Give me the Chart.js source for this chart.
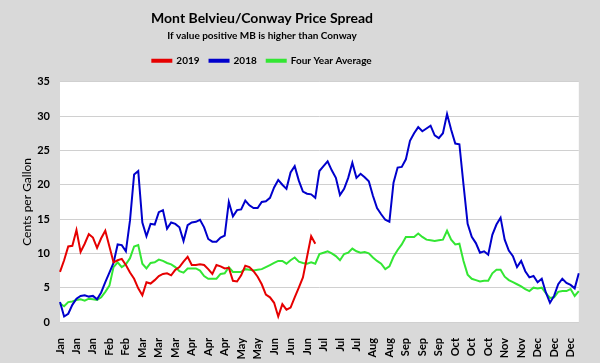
<!DOCTYPE html>
<html>
<head>
<meta charset="utf-8">
<script src="https://cdn.jsdelivr.net/npm/chart.js@4/dist/chart.umd.min.js"></script>
<style>
  html, body { margin: 0; padding: 0; background: #d9d9d9; }
  #wrap { width: 600px; height: 363px; }
</style>
</head>
<body>
<div id="wrap"><canvas id="c" width="600" height="363"></canvas></div>
<script>
// Tick labels shown along the x axis (one every 4 points)
const monthTicks = ['Jan','Jan','Jan','Feb','Feb','Mar','Mar','Mar','Apr','Apr','Apr','May','May','Jun','Jun','Jun',
  'Jul','Jul','Jul','Aug','Aug','Sep','Sep','Sep','Oct','Oct','Oct','Nov','Nov','Dec','Dec','Dec'];

// Series values (cents per gallon)
const series2019 = [
  7.3, 9.0, 11.0, 11.1, 13.4, 10.2, 11.4, 12.8, 12.3, 10.8,
  12.2, 13.3, 11.0, 8.7, 9.0, 9.2, 8.3, 7.2, 6.3, 4.9,
  3.9, 5.8, 5.6, 6.1, 6.7, 7.0, 7.1, 6.8, 7.6, 8.0,
  8.8, 9.5, 8.3, 8.3, 8.4, 8.3, 7.7, 7.0, 8.3, 8.1,
  7.8, 7.9, 6.0, 5.9, 6.8, 8.2, 8.0, 7.4, 6.6, 5.5,
  4.0, 3.6, 2.8, 0.8, 2.6, 1.8, 2.1, 3.6, 5.0, 6.5,
  9.5, 12.5, 11.4
];
const series2018 = [
  2.9, 0.8, 1.2, 2.5, 3.4, 3.8, 3.9, 3.7, 3.8, 3.3,
  4.3, 5.8, 7.2, 8.6, 11.3, 11.2, 10.3, 14.8, 21.5, 22.0,
  14.5, 12.5, 14.3, 14.2, 16.0, 16.3, 13.6, 14.5, 14.3, 13.8,
  11.8, 14.1, 14.5, 14.6, 14.9, 13.8, 12.1, 11.7, 11.7, 12.3,
  12.6, 17.5, 15.4, 16.3, 16.4, 17.7, 17.0, 16.6, 16.6, 17.5,
  17.6, 18.1, 19.6, 20.7, 20.0, 19.4, 21.8, 22.7, 20.6, 19.0,
  18.7, 18.6, 18.1, 22.0, 22.7, 23.4, 22.1, 21.0, 18.5, 19.4,
  21.0, 23.2, 21.0, 21.6, 21.1, 20.5, 18.4, 16.6, 15.7, 14.9,
  14.6, 20.3, 22.5, 22.6, 23.7, 26.4, 27.5, 28.4, 27.8, 28.2,
  28.6, 27.2, 26.8, 27.5, 30.3, 28.0, 26.0, 25.9, 20.0, 14.3,
  12.4, 11.5, 10.1, 10.3, 9.8, 12.7, 14.2, 15.2, 12.0, 10.4,
  9.6, 8.0, 8.9, 7.4, 6.5, 6.7, 5.8, 6.3, 4.3, 2.8,
  3.8, 5.5, 6.3, 5.7, 5.4, 4.9, 7.1
];
const seriesAvg = [
  2.7, 2.3, 2.9, 3.0, 3.2, 3.3, 3.1, 3.4, 3.3, 3.2,
  3.6, 4.4, 5.3, 8.0, 8.7, 8.0, 8.4, 9.3, 11.0, 11.2,
  8.5, 7.8, 8.6, 8.7, 9.1, 8.9, 8.6, 8.4, 8.0, 7.4,
  7.2, 7.8, 7.8, 7.8, 7.5, 6.7, 6.3, 6.3, 6.3, 7.0,
  7.1, 8.0, 7.3, 7.3, 7.3, 7.7, 7.6, 7.5, 7.6, 7.7,
  8.0, 8.3, 8.6, 8.9, 8.9, 8.5, 9.0, 9.4, 8.8, 8.6,
  8.5, 8.7, 8.5, 9.9, 10.1, 10.3, 10.0, 9.6, 9.0, 9.9,
  10.1, 10.7, 10.3, 10.1, 10.2, 10.0, 9.4, 8.9, 8.5, 7.7,
  8.1, 9.5, 10.5, 11.3, 12.4, 12.4, 12.4, 12.9, 12.4, 12.0,
  11.9, 11.8, 11.9, 12.0, 13.3, 12.0, 11.3, 11.4, 8.9, 6.9,
  6.3, 6.1, 5.9, 6.0, 6.0, 7.1, 7.6, 7.6, 6.6, 6.1,
  5.8, 5.5, 5.2, 4.8, 4.5, 5.0, 4.9, 5.0, 4.2, 3.5,
  3.6, 4.4, 4.5, 4.5, 4.8, 3.8, 4.5
];

const seriesNames = ['2019', '2018', 'Four Year Average'];
const yTicks = [0, 5, 10, 15, 20, 25, 30, 35];

const categories = seriesAvg.map((_, i) => (i % 4 === 0 && monthTicks[i / 4]) ? monthTicks[i / 4] : '');

const FONT = 'Lato';
const HEADER_CENTER_X = 262;

const bgPlugin = {
  id: 'bg',
  beforeDraw(chart) {
    const { ctx, chartArea: a } = chart;
    ctx.save();
    ctx.fillStyle = '#d9d9d9';
    ctx.fillRect(0, 0, chart.width, chart.height);
    ctx.fillStyle = '#ffffff';
    ctx.fillRect(a.left, a.top, a.right - a.left, a.bottom - a.top);
    ctx.restore();
  }
};

// Center the title, subtitle and legend where the original places them
const headerPlugin = {
  id: 'headerShift',
  afterLayout(chart) {
    chart.boxes.forEach(b => {
      if (b.position === 'top' && !b.axis) {
        b.right = 2 * HEADER_CENTER_X - b.left;
        b.width = b.right - b.left;
      }
    });
  }
};

function draw() {
  new Chart(document.getElementById('c'), {
    type: 'line',
    data: {
      labels: categories,
      datasets: [
        { label: seriesNames[0], data: series2019, borderColor: '#e60000', backgroundColor: '#e60000' },
        { label: seriesNames[1], data: series2018, borderColor: '#0000cc', backgroundColor: '#0000cc' },
        { label: seriesNames[2], data: seriesAvg, borderColor: '#33e633', backgroundColor: '#33e633' }
      ]
    },
    options: {
      responsive: false,
      devicePixelRatio: 1,
      animation: false,
      layout: { padding: { top: 0, left: 0, right: 12, bottom: 0 } },
      elements: {
        line: { borderWidth: 2, tension: 0 },
        point: { radius: 0, hoverRadius: 0 }
      },
      plugins: {
        title: {
          display: true,
          text: 'Mont Belvieu/Conway Price Spread',
          color: '#000',
          font: { family: FONT, size: 14, weight: 'bold', lineHeight: 1.2 },
          padding: { top: 10, bottom: 0 }
        },
        subtitle: {
          display: true,
          text: 'If value positive MB is higher than Conway',
          color: '#000',
          font: { family: FONT, size: 10, weight: 'bold', lineHeight: 1.2 },
          padding: { top: 3, bottom: 4 }
        },
        legend: {
          display: true,
          position: 'top',
          labels: {
            color: '#000',
            font: { family: FONT, size: 10, weight: 'bold' },
            boxWidth: 19,
            boxHeight: 2,
            padding: 10
          }
        },
        tooltip: { enabled: false }
      },
      scales: {
        x: {
          type: 'category',
          offset: false,
          grid: { display: false },
          border: { display: false },
          ticks: {
            autoSkip: false,
            minRotation: 90,
            maxRotation: 90,
            padding: 8,
            color: '#000',
            font: { family: FONT, size: 11, weight: 'bold' }
          },
          afterFit(s) { s.height = 41; }
        },
        gap: {
          type: 'category',
          position: 'top',
          display: true,
          grid: { display: false },
          border: { display: false },
          ticks: { display: false },
          afterFit(s) { s.height = 6; }
        },
        y: {
          min: yTicks[0],
          max: yTicks[yTicks.length - 1],
          afterBuildTicks(s) { s.ticks = yTicks.map(v => ({ value: v })); },
          grid: { color: '#d0d0d0', lineWidth: 1, drawTicks: false },
          border: { display: false },
          ticks: {
            padding: 10,
            color: '#000',
            font: { family: FONT, size: 11, weight: 'bold' }
          },
          title: {
            display: true,
            text: 'Cents per Gallon',
            color: '#000',
            font: { family: FONT, size: 12, weight: 'normal', lineHeight: 1.2 },
            padding: { top: 20, bottom: 0 }
          },
          afterFit(s) { s.width = 60; }
        }
      }
    },
    plugins: [bgPlugin, headerPlugin]
  });
}

if (document.fonts && document.fonts.load) {
  Promise.all([
    document.fonts.load('bold 14px Lato'),
    document.fonts.load('12px Lato')
  ]).then(draw, draw);
} else {
  draw();
}
</script>
</body>
</html>
